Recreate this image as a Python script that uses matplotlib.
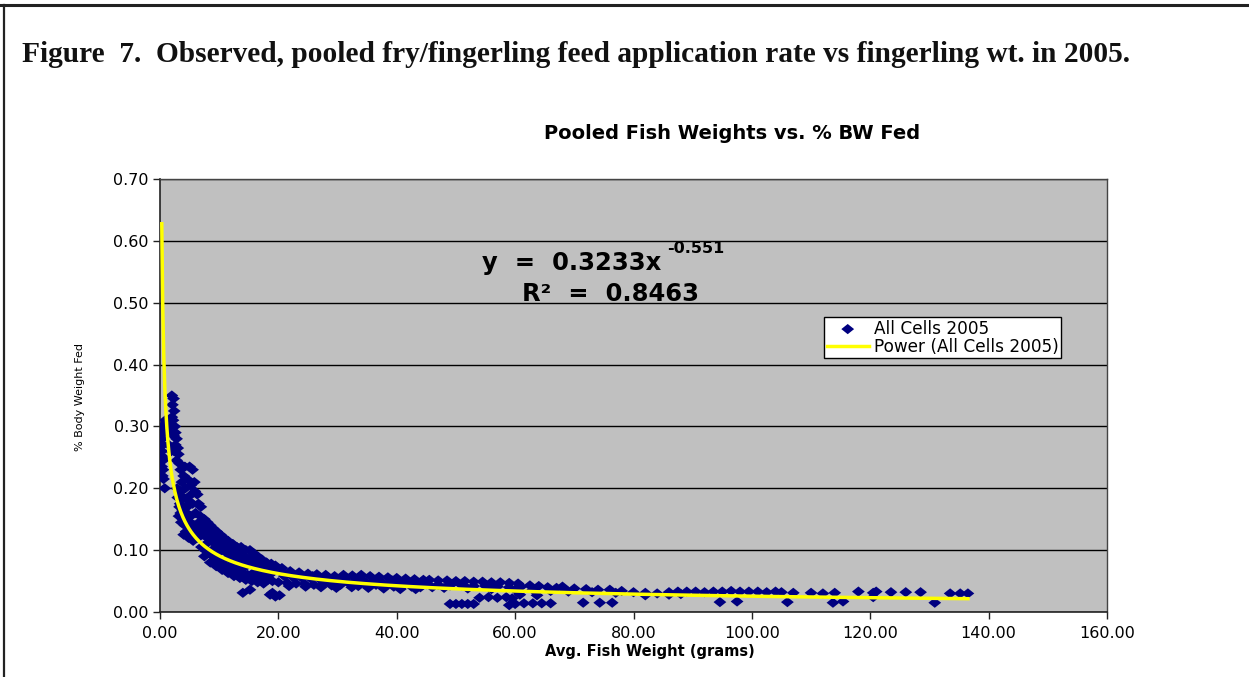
import matplotlib
matplotlib.use("Agg")
import matplotlib.pyplot as plt
import numpy as np

# ---------------- data ----------------
fish_weight = [
    # x 0-1 (left edge cluster)
    0.3, 0.3, 0.4, 0.3, 0.4, 0.5, 0.3, 0.5, 0.4, 0.6, 0.8, 0.5, 0.7, 0.9, 0.6,
    # x 1.5-3.5 high column
    2.0, 2.3, 2.1, 2.4, 2.0, 2.2, 2.5, 2.6, 2.3, 2.8, 2.6, 3.0, 2.4, 3.1, 2.8, 3.3,
    1.6, 1.8, 1.5, 1.9,
    # x 3-7 band
    3.5, 4.2, 5.0, 5.5, 4.0, 4.6, 5.8, 3.7, 4.3, 5.2, 5.9, 6.3, 3.5, 4.0, 4.8, 5.5,
    6.5, 6.9, 3.4, 3.8, 4.5, 5.2, 6.0, 6.8, 3.2, 3.6, 4.2, 5.0, 5.8, 6.6, 4.0, 4.8,
    5.6, 6.4, 7.0,
    3.0, 3.3, 3.9, 4.4, 5.1, 5.7, 6.2, 2.9, 3.5, 4.6, 5.3,
    # x 7-20 band, upper
    7.5, 8.0, 8.5, 9.0, 9.6, 10.2, 10.8, 11.5, 12.3, 13.0, 13.7, 14.5, 15.2, 15.8,
    16.5, 17.2, 18.0, 18.8, 19.5,
    # middle
    7.3, 8.0, 8.7, 9.4, 10.0, 10.7, 11.4, 12.0, 12.8, 13.5, 14.2, 15.0, 15.8, 16.6,
    17.5, 18.3, 19.2,
    # lower
    7.0, 7.6, 8.3, 9.0, 9.6, 10.3, 11.0, 11.8, 12.5, 13.3, 14.0, 14.8, 15.6, 16.4,
    17.3, 18.2, 19.0,
    7.5, 8.5, 9.5, 10.5, 11.5, 12.5, 13.5, 14.5, 15.5, 16.5, 17.5,
    7.8, 8.8, 9.8, 11.0, 12.2, 13.0, 14.0, 16.0, 17.0, 18.5,
    8.2, 9.2, 10.4, 11.2, 12.6, 13.8, 15.0, 16.2, 17.8, 19.0,
    7.2, 8.1, 9.1, 10.1, 11.1, 12.1, 13.1, 14.3, 15.4, 16.8,
    # outliers near x 14-20
    14.0, 15.2, 18.6, 19.5, 20.2, 19.0,
    # x 20-45 band
    20.6, 22.0, 23.5, 25.0, 26.5, 28.0, 29.5, 31.0, 32.5, 34.0, 35.5, 37.0, 38.5,
    40.0, 41.5, 43.0, 44.5,
    21.0, 22.5, 24.0, 25.5, 27.0, 28.5, 30.0, 31.5, 33.0, 34.5, 36.0, 37.5, 39.0,
    40.5, 42.0, 43.5,
    20.0, 21.5, 23.0, 24.5, 26.0, 27.5, 29.0, 30.5, 32.0, 33.5, 35.0, 36.5, 38.0,
    39.5, 41.0, 42.5, 44.0,
    20.8, 23.2, 25.8, 28.4, 31.2, 33.8, 36.4, 39.2, 41.8, 44.2,
    21.8, 24.6, 27.2, 29.8, 32.4, 35.2, 37.8, 40.6, 43.2,
    # x 45-78
    45.5, 47.0, 48.5, 50.0, 51.5, 53.0, 54.5, 56.0, 57.5, 59.0, 60.5,
    45.0, 47.0, 49.0, 51.0, 53.0, 55.0, 57.0, 59.0, 61.0, 62.5, 64.0, 65.5, 67.0,
    68.0, 70.0, 72.0, 74.0, 76.0, 78.0,
    46.0, 48.0, 52.0, 56.0, 60.0, 63.0, 66.0, 69.0, 73.0, 77.0,
    49.0, 50.0, 51.0, 52.0, 53.0,
    54.0, 55.5, 57.0, 58.5, 59.5,
    59.0, 60.0, 61.5, 63.0, 64.5, 66.0,
    60.8, 63.7, 68.0,
    71.5, 74.3, 76.4,
    # x 78-137
    80.0, 82.0, 84.0, 86.0, 87.5, 89.0, 90.5, 92.0, 93.5, 95.0, 96.5, 98.0,
    99.5, 101.0, 102.5, 104.0, 105.0, 107.0, 110.0, 112.0, 114.0, 118.0, 120.5,
    121.0, 123.5, 126.0, 128.5, 133.5, 135.2, 136.5,
    82.0, 86.0, 88.0, 94.6, 97.5, 106.0, 113.7, 115.4, 120.5, 130.9,
]

pct_bw_fed = [
    0.300, 0.290, 0.280, 0.260, 0.250, 0.245, 0.235, 0.230, 0.220, 0.215, 0.200,
    0.270, 0.290, 0.310, 0.250,
    0.350, 0.345, 0.335, 0.325, 0.315, 0.310, 0.300, 0.290, 0.285, 0.280, 0.270,
    0.265, 0.260, 0.255, 0.245, 0.240,
    0.300, 0.290, 0.270, 0.260,
    0.230, 0.235, 0.235, 0.230, 0.220, 0.215, 0.210, 0.210, 0.200, 0.205, 0.195,
    0.190, 0.195, 0.185, 0.180, 0.175, 0.175, 0.170, 0.175, 0.165, 0.160, 0.155,
    0.160, 0.155, 0.155, 0.145, 0.140, 0.135, 0.140, 0.145, 0.125, 0.120, 0.115,
    0.120, 0.135,
    0.185, 0.170, 0.150, 0.130, 0.145, 0.125, 0.130, 0.200, 0.160, 0.170, 0.190,
    0.150, 0.145, 0.140, 0.135, 0.130, 0.125, 0.120, 0.115, 0.110, 0.105, 0.105,
    0.100, 0.100, 0.095, 0.090, 0.085, 0.080, 0.078, 0.075,
    0.125, 0.120, 0.115, 0.110, 0.105, 0.100, 0.095, 0.090, 0.088, 0.085, 0.080,
    0.078, 0.075, 0.072, 0.070, 0.068, 0.066,
    0.105, 0.100, 0.095, 0.090, 0.085, 0.080, 0.075, 0.072, 0.068, 0.064, 0.062,
    0.060, 0.058, 0.056, 0.054, 0.052, 0.050,
    0.090, 0.080, 0.074, 0.068, 0.063, 0.058, 0.055, 0.052, 0.050, 0.048, 0.046,
    0.110, 0.100, 0.095, 0.085, 0.078, 0.075, 0.070, 0.065, 0.062, 0.060,
    0.130, 0.120, 0.112, 0.105, 0.098, 0.092, 0.086, 0.082, 0.076, 0.070,
    0.138, 0.128, 0.122, 0.116, 0.108, 0.100, 0.094, 0.090, 0.084, 0.080,
    0.031, 0.036, 0.028, 0.025, 0.027, 0.031,
    0.071, 0.066, 0.064, 0.062, 0.061, 0.060, 0.058, 0.060, 0.059, 0.060, 0.058,
    0.057, 0.056, 0.055, 0.054, 0.053, 0.052,
    0.058, 0.056, 0.055, 0.054, 0.053, 0.052, 0.051, 0.050, 0.050, 0.050, 0.049,
    0.048, 0.048, 0.047, 0.047, 0.046,
    0.048, 0.047, 0.046, 0.045, 0.044, 0.044, 0.043, 0.044, 0.046, 0.042, 0.043,
    0.044, 0.043, 0.041, 0.042, 0.041, 0.040,
    0.064, 0.060, 0.058, 0.056, 0.055, 0.054, 0.052, 0.051, 0.050, 0.048,
    0.042, 0.041, 0.040, 0.039, 0.040, 0.039, 0.038, 0.037, 0.037,
    0.052, 0.051, 0.051, 0.050, 0.050, 0.049, 0.049, 0.048, 0.048, 0.047, 0.046,
    0.045, 0.044, 0.043, 0.043, 0.042, 0.042, 0.041, 0.040, 0.041, 0.043, 0.042,
    0.040, 0.039, 0.041, 0.038, 0.037, 0.036, 0.036, 0.034,
    0.040, 0.039, 0.038, 0.037, 0.036, 0.036, 0.034, 0.033, 0.032, 0.031,
    0.013, 0.013, 0.013, 0.013, 0.013,
    0.023, 0.024, 0.023, 0.024, 0.022,
    0.011, 0.013, 0.014, 0.014, 0.014, 0.014,
    0.028, 0.027, 0.039,
    0.015, 0.015, 0.015,
    0.032, 0.031, 0.030, 0.032, 0.033, 0.033, 0.033, 0.032, 0.033, 0.033, 0.034,
    0.033, 0.033, 0.033, 0.032, 0.033, 0.032, 0.031, 0.031, 0.030, 0.031, 0.033,
    0.031, 0.033, 0.032, 0.032, 0.032, 0.030, 0.030, 0.030,
    0.027, 0.028, 0.029, 0.016, 0.017, 0.016, 0.015, 0.017, 0.024, 0.015,
]

# power trendline coefficients (as printed on the chart)
trend_coef = 0.3233
trend_exp = -0.551
r_squared = 0.8463

x_ticks = [0, 20, 40, 60, 80, 100, 120, 140, 160]
y_ticks = [0.0, 0.1, 0.2, 0.3, 0.4, 0.5, 0.6, 0.7]

series_label = "All Cells 2005"
trend_label = "Power (All Cells 2005)"

# ---------------- figure ----------------
plt.rcParams['font.family'] = ['DejaVu Sans']
W, H = 1249, 677
fig = plt.figure(figsize=(W / 100, H / 100), dpi=100)
fig.patch.set_facecolor('white')

def fx(px):
    return px / W

def fy(py):
    return 1 - py / H

# page border lines (top and left)
fig.add_artist(plt.Line2D([0, 1], [fy(5), fy(5)], color='#222222', lw=2.2,
                          transform=fig.transFigure))
fig.add_artist(plt.Line2D([fx(4), fx(4)], [0, fy(5)], color='#222222', lw=1.6,
                          transform=fig.transFigure))

fig.text(fx(22), fy(62), "Figure  7.  Observed, pooled fry/fingerling feed application rate vs fingerling wt. in 2005.",
         family='Liberation Serif', fontweight='bold', fontsize=21.2, ha='left',
         va='baseline', color='#111111')

ax = fig.add_axes([fx(160), fy(612), fx(1107) - fx(160), fy(179) - fy(612)])
ax.set_facecolor('#C0C0C0')
ax.set_xlim(0, 160)
ax.set_ylim(0, 0.70)
ax.set_xticks(x_ticks)
ax.set_yticks(y_ticks)
ax.set_xticklabels([f"{v:.2f}" for v in x_ticks], fontsize=11.5)
ax.set_yticklabels([f"{v:.2f}" for v in y_ticks], fontsize=11.5)
ax.tick_params(axis='both', direction='out', length=5, width=1, color='#222222',
               labelcolor='black', pad=3)
ax.tick_params(axis='x', pad=5)
ax.yaxis.grid(True, color='black', lw=1)
ax.set_axisbelow(True)
for s in ['left', 'bottom']:
    ax.spines[s].set_color('#222222')
    ax.spines[s].set_linewidth(1.2)
for s in ['top', 'right']:
    ax.spines[s].set_color('#444444')
    ax.spines[s].set_linewidth(1)

diamond = [(-1.25, 0), (0, 1), (1.25, 0), (0, -1)]
ax.scatter(fish_weight, pct_bw_fed, marker=diamond, s=9.2 ** 2, color='#000080',
           edgecolors='none', zorder=3, label=series_label)

xt = np.linspace(min(fish_weight), max(fish_weight), 800)
ax.plot(xt, trend_coef * xt ** trend_exp, color='#FFFF00', lw=2.5, zorder=4,
        label=trend_label)

leg = ax.legend(loc='upper left', bbox_to_anchor=((824 - 160) / 947, (612 - 317) / 433),
                fontsize=12.2, frameon=True, fancybox=False, edgecolor='black',
                facecolor='white', framealpha=1, borderpad=0.15, labelspacing=0.02,
                handlelength=2.5, handletextpad=0.3, borderaxespad=0)
leg.get_frame().set_linewidth(1)

# equation text
eq = fig.text(fx(482), fy(270), f"y  =  {trend_coef}x", fontsize=17.5, fontweight='bold',
              ha='left', va='baseline')
ax.annotate(f"{trend_exp}", xy=(1.03, 0.78), xycoords=eq, fontsize=11.5,
            fontweight='bold', ha='left', va='bottom')
fig.text(fx(610), fy(301), f"R²  =  {r_squared}", fontsize=17.5, fontweight='bold',
         ha='center', va='baseline')

# chart title
fig.text(fx(732), fy(139), "Pooled Fish Weights vs. % BW Fed", fontsize=14,
         fontweight='bold', ha='center', va='baseline')

# axis labels
fig.text(fx(650), fy(656), "Avg. Fish Weight (grams)", fontsize=10.5,
         fontweight='bold', ha='center', va='baseline')
fig.text(fx(80), fy(397), "% Body Weight Fed", fontsize=8, rotation=90,
         ha='center', va='center')

fig.savefig("out.png", dpi=100)
